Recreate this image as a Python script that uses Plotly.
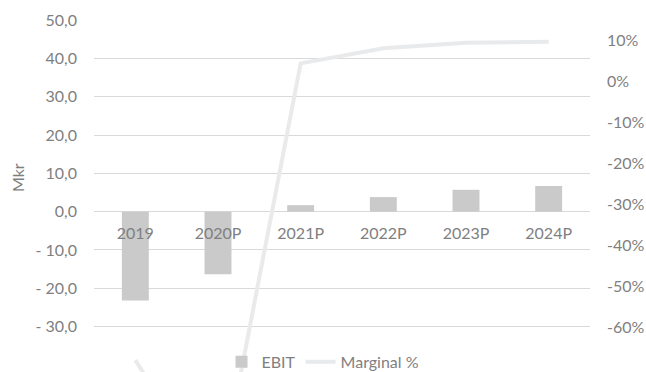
import plotly.graph_objects as go

# EBIT (Mkr) and operating margin (%) per year, P = plan
years = ["2019", "2020P", "2021P", "2022P", "2023P", "2024P"]
ebit = [-23.2, -16.3, 1.7, 3.8, 5.7, 6.7]
margin = [-68.0, -100.0, 4.3, 8.0, 9.3, 9.6]

left_ticks = [-30, -20, -10, 0, 10, 20, 30, 40, 50]
left_labels = ["- 30,0", "- 20,0", "- 10,0", "0,0", "10,0", "20,0", "30,0", "40,0", "50,0"]
right_ticks = [-60, -50, -40, -30, -20, -10, 0, 10]
right_labels = ["-60%", "-50%", "-40%", "-30%", "-20%", "-10%", "0%", "10%"]

FONT = "Lato, 'Open Sans', sans-serif"
TXT = "#7f7f7f"
GRID = "#d9d9d9"

y_range = [-41.83, 50]
y2_range = [-70.9, 14.87]
zero_pos = (0 - y_range[0]) / (y_range[1] - y_range[0])

fig = go.Figure()
fig.add_trace(go.Bar(
    x=years, y=ebit, name="EBIT",
    marker=dict(color="#c9cac9", line=dict(width=0)),
    yaxis="y",
))
fig.add_trace(go.Scatter(
    x=years, y=margin, name="Marginal %", mode="lines",
    line=dict(color="#e9eaec", width=4),
    yaxis="y2",
))

fig.update_layout(
    width=646, height=372,
    margin=dict(l=94, r=56, t=20, b=0, autoexpand=False),
    paper_bgcolor="white", plot_bgcolor="white",
    font=dict(family=FONT, size=16, color=TXT),
    bargap=0.674,
    showlegend=True,
    legend=dict(
        orientation="h", xref="container", yref="container",
        x=0.5, xanchor="center", y=0.027, yanchor="middle",
        font=dict(size=16, color=TXT), bgcolor="rgba(0,0,0,0)",
        itemwidth=30, traceorder="normal",
    ),
    xaxis=dict(
        anchor="free", position=zero_pos, automargin=False,
        showgrid=False, showline=False, zeroline=False, ticks="",
        tickfont=dict(size=16, color=TXT), ticklabelstandoff=10,
    ),
    yaxis=dict(
        range=y_range, tickvals=left_ticks, ticktext=left_labels,
        showgrid=True, gridcolor=GRID, gridwidth=1, automargin=False,
        zeroline=False, showline=False, ticks="",
        tickfont=dict(size=16, color=TXT), ticklabelstandoff=16,
    ),
    yaxis2=dict(
        range=y2_range, tickvals=right_ticks, ticktext=right_labels,
        overlaying="y", side="right", anchor="x", automargin=False,
        showgrid=False, zeroline=False, showline=False, ticks="",
        tickfont=dict(size=16, color=TXT), ticklabelstandoff=16,
    ),
    annotations=[dict(
        text="Mkr", textangle=-90, showarrow=False,
        xref="paper", yref="y", x=-0.153, y=8.8,
        xanchor="center", yanchor="middle",
        font=dict(size=16, color=TXT),
    )],
)

fig.write_html("out.html")
